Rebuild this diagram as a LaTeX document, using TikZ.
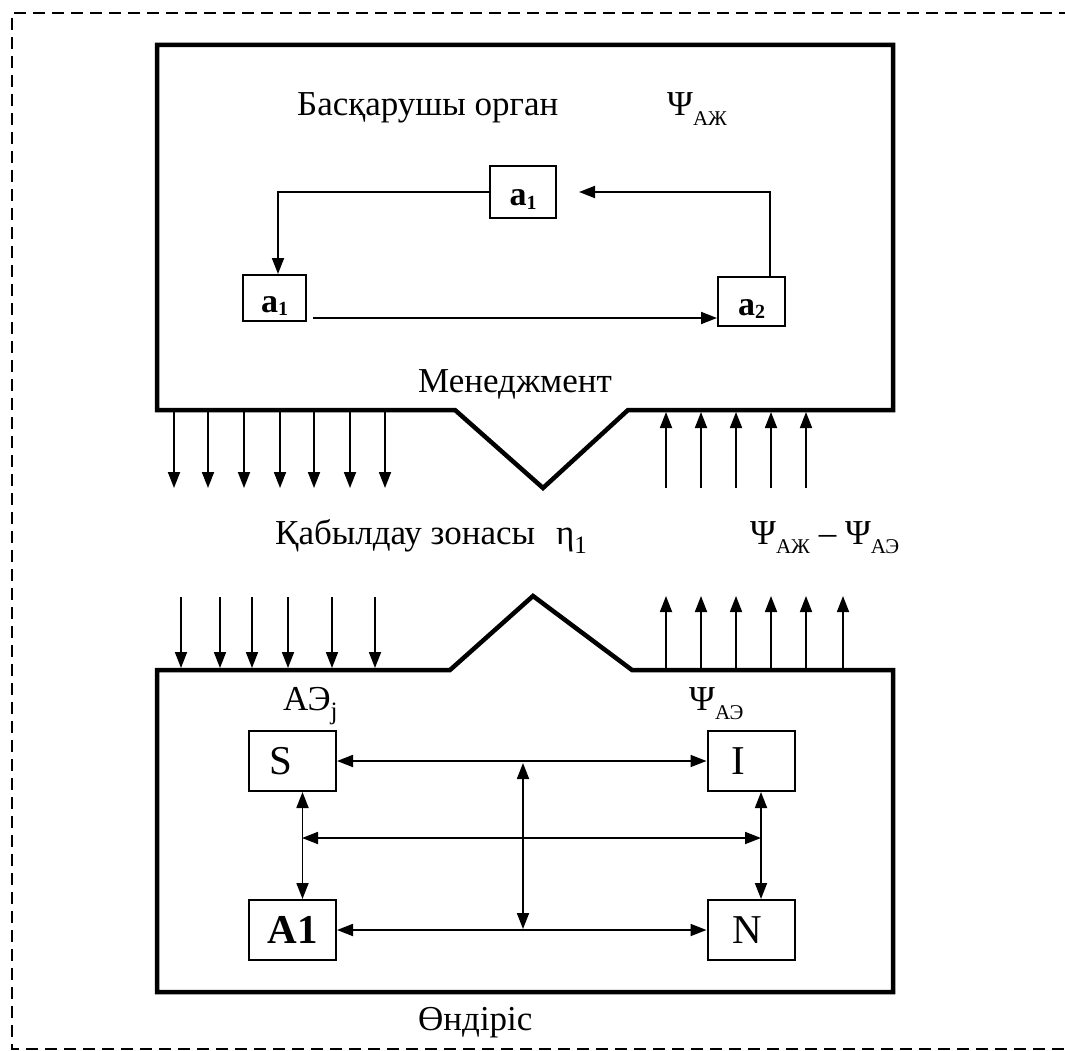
\documentclass[tikz,border=0pt]{standalone}
\usepackage{fontspec}
\setmainfont{Liberation Serif}
\usetikzlibrary{arrows.meta}
\newcommand\lowidx[2][21]{\raisebox{-0.28em}{\fontsize{#1}{#1}\selectfont #2}}
\newcommand\aidx[1]{\raisebox{-0.1em}{\fontsize{20}{20}\selectfont #1}}
\begin{document}
\begin{tikzpicture}[x=1pt,y=-1pt,
  thickframe/.style={line width=4.5pt, line join=miter},
  abox/.style={draw, line width=2pt, inner sep=0pt, text height=28pt, text depth=0pt, font=\bfseries\fontsize{34}{36}\selectfont},
  pbox/.style={draw, line width=2pt, inner sep=0pt, minimum width=87pt, minimum height=60pt, font=\fontsize{41}{44}\selectfont},
  tip/.style={-{Triangle[length=16pt,width=12pt]}, line width=1.8pt},
  dtip/.style={{Triangle[length=16pt,width=12pt]}-{Triangle[length=16pt,width=12pt]}, line width=1.8pt},
  lbl/.style={font=\fontsize{35}{38}\selectfont, inner sep=0pt, anchor=base west}]
\useasboundingbox (0,0) rectangle (1065,1051);
\clip (0,0) rectangle (1065,1051);
% dashed outer frame
\draw[line width=1.5pt, dash pattern=on 12pt off 7pt] (1090,13) -- (12,13) -- (12,1049) -- (1090,1049);
% upper block (management)
\draw[thickframe] (455,410) -- (543,488) -- (628,410) -- (893,410) -- (893,45) -- (157,45) -- (157,410) -- cycle;
% lower block (production)
\draw[thickframe] (450,670) -- (533,596) -- (632,670) -- (893,670) -- (893,992) -- (157,992) -- (157,670) -- cycle;
% labels
\node[lbl] (lorgan) at (297,116) {Басқарушы орган};
\node[lbl] (lpsi1) at (667,116) {Ψ\lowidx{АЖ}};
\node[lbl] (lmen) at (418,392) {Менеджмент};
\node[lbl] (lzone) at (275,544) {Қабылдау зонасы\hspace{0.6em}η\lowidx[25]{1}};
\node[lbl] (ldiff) at (750,544) {Ψ\lowidx{АЖ} – Ψ\lowidx{АЭ}};
\node[lbl] (lae) at (283,710) {АЭ\lowidx[25]{j}};
\node[lbl] (lpsi2) at (689,710) {Ψ\lowidx{АЭ}};
\node[lbl] (lprod) at (418,1030) {Өндіріс};
% upper small boxes
\node[abox, minimum width=66pt, minimum height=52pt] (t1) at (523,192) {a\aidx{1}};
\node[abox, minimum width=63pt, minimum height=46pt] (l1) at (274.5,298) {a\aidx{1}};
\node[abox, minimum width=67pt, minimum height=49pt] (r2) at (751.5,301.5) {a\aidx{2}};
\draw[tip] (t1.west) -| ([xshift=3.5pt]l1.north);
\draw[tip] ([xshift=18.5pt]r2.north) |- ([xshift=22pt]t1.east);
\coordinate (lo) at (313,318);
\draw[tip] (lo) -- (lo -| r2.west);
% boundary arrows
\foreach \x in {174,208,244,280,314,350,385} \draw[tip] (\x,412) -- (\x,488);
\foreach \x in {666,701,736,771,806} \draw[tip] (\x,488) -- (\x,412);
\foreach \x in {181,220,252,288,332,375} \draw[tip] (\x,597) -- (\x,668);
\foreach \x in {666,701,736,771,806,843} \draw[tip] (\x,668) -- (\x,596);
% lower boxes
\node[pbox] (S) at (292.5,761) {S\kern24pt\relax};
\node[pbox] (I) at (751,761) {I\kern26pt\relax};
\node[pbox, font=\bfseries\fontsize{41}{44}\selectfont] (A1) at (292.5,930) {A1};
\node[pbox] (N) at (751,930) {N\kern8pt\relax};
\draw[dtip] (S) -- (I);
\draw[dtip] (A1) -- (N);
\draw[dtip] ([xshift=10pt]S.south) -- ([xshift=10pt]A1.north);
\draw[dtip] ([xshift=10pt]I.south) -- ([xshift=10pt]N.north);
\coordinate (ml) at (302,838);
\coordinate (mr) at (761,838);
\draw[dtip] (ml) -- (mr);
\coordinate (mt) at (523,763);
\coordinate (mb) at (523,929);
\draw[dtip] (mt) -- (mb);
\end{tikzpicture}
\end{document}
